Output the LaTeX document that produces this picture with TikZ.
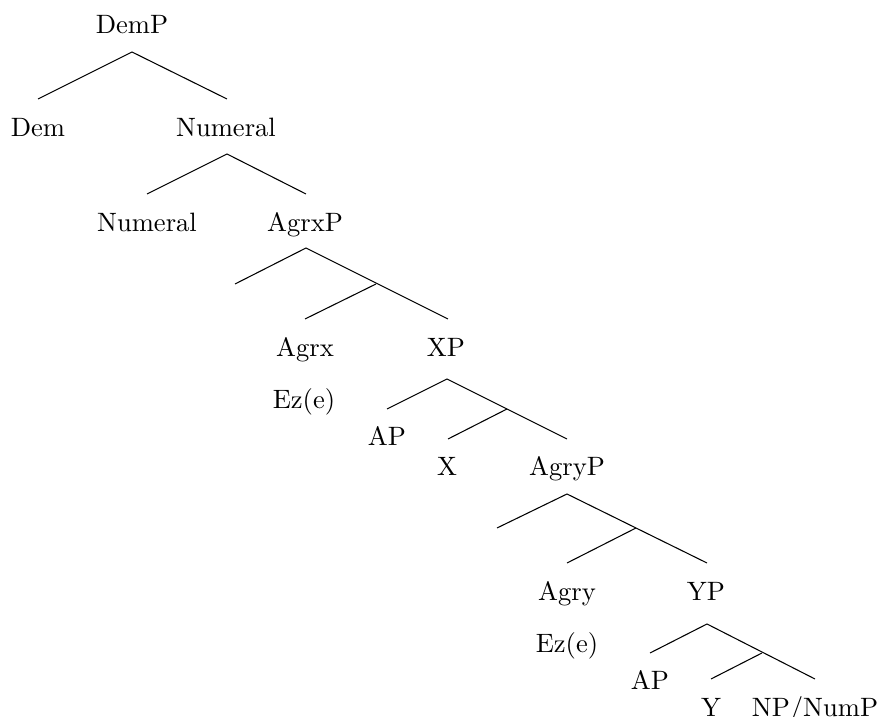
\documentclass[tikz,border=0pt]{standalone}
\begin{document}
\begin{tikzpicture}[x=0.3764pt,y=-0.3764pt,
  lbl/.style={anchor=base,inner sep=0pt,outer sep=0pt,font=\fontsize{10}{12}\selectfont},
  branch/.style={draw=black,line width=0.4pt}]
\useasboundingbox (0,0) rectangle (878,717);
% labels
\node[lbl] (demp) at (132,34) {DemP};
\node[lbl] (dem) at (38,137) {Dem};
\node[lbl] (num1) at (226,137) {Numeral};
\node[lbl] (num2) at (147,232) {Numeral};
\node[lbl] (agrxp) at (305,232) {AgrxP};
\node[lbl] (agrx) at (305,357) {Agrx};
\node[lbl] (xp) at (446,357) {XP};
\node[lbl] (ez1) at (304,409) {Ez(e)};
\node[lbl] (ap1) at (387,446) {AP};
\node[lbl] (x) at (447,476) {X};
\node[lbl] (agryp) at (567,476) {AgryP};
\node[lbl] (agry) at (567,601) {Agry};
\node[lbl] (yp) at (706,601) {YP};
\node[lbl] (ez2) at (567,653) {Ez(e)};
\node[lbl] (ap2) at (650,690) {AP};
\node[lbl] (y) at (711,717) {Y};
\node[lbl] (npnum) at (815,717) {NP/NumP};
% branch points
\coordinate (a1) at (132,52);
\coordinate (a1l) at (38,99);
\coordinate (a1r) at (227,99);
\coordinate (a2) at (227,154);
\coordinate (a2l) at (147,194);
\coordinate (a2r) at (306,194);
\coordinate (a3) at (306,248);
\coordinate (a3l) at (235,284);
\coordinate (a3r) at (448,319);
\coordinate (a3j) at (376,284);
\coordinate (a3jl) at (305,319);
\coordinate (a4) at (447,379);
\coordinate (a4l) at (387,409);
\coordinate (a4r) at (567,439);
\coordinate (a4j) at (507,409);
\coordinate (a4jl) at (448,439);
\coordinate (a5) at (567,494);
\coordinate (a5l) at (497,528);
\coordinate (a5r) at (707,563);
\coordinate (a5j) at (636,528);
\coordinate (a5jl) at (567,563);
\coordinate (a6) at (707,624);
\coordinate (a6l) at (650,653);
\coordinate (a6r) at (815,679);
\coordinate (a6j) at (762,653);
\coordinate (a6jl) at (711,679);
% branches
\draw[branch] (a1l) -- (a1) -- (a1r);
\draw[branch] (a2l) -- (a2) -- (a2r);
\draw[branch] (a3l) -- (a3) -- (a3r);
\draw[branch] (a3j) -- (a3jl);
\draw[branch] (a4l) -- (a4) -- (a4r);
\draw[branch] (a4j) -- (a4jl);
\draw[branch] (a5l) -- (a5) -- (a5r);
\draw[branch] (a5j) -- (a5jl);
\draw[branch] (a6l) -- (a6) -- (a6r);
\draw[branch] (a6j) -- (a6jl);
\end{tikzpicture}
\end{document}
